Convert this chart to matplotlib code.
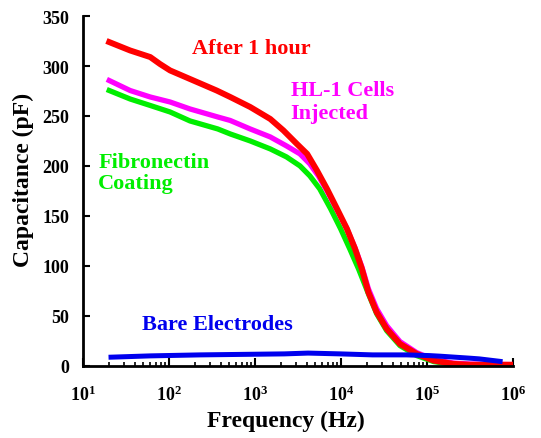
import matplotlib
matplotlib.use("Agg")
import matplotlib.pyplot as plt
from matplotlib.ticker import FixedLocator, LogLocator, NullFormatter

# ---- data ----
freq_red = [20, 35, 60, 78, 102, 174, 355, 510, 870, 1490, 2120, 3040, 4000, 5200,
            6800, 8900, 11600, 14400, 17300, 20600, 25700, 33600, 48000, 75000,
            118000, 200000, 316000, 1000000]
cap_red = [324, 315.6, 309, 302, 295.6, 287, 275.5, 269, 259, 247, 235.5, 222, 212, 195.4,
           177, 157, 137, 117, 97, 73.5, 53.5, 36.8, 21.7, 11.7,
           5, 1.7, 0.8, 0.8]

freq_mag = [20, 35, 60, 102, 174, 365, 510, 870, 1490, 2300, 3300, 4300, 5400,
            6800, 8900, 11600, 14400, 17300, 20600, 25700, 33600, 48000, 75000,
            118000, 200000, 316000, 1000000]
cap_mag = [285.5, 275.5, 269, 264, 257, 249, 245.5, 237, 229, 220, 212, 202, 190,
           175, 156, 137, 118, 99, 77, 57, 40, 24, 13,
           6, 2.5, 1.5, 1]

freq_grn = [20, 35, 60, 102, 174, 365, 510, 870, 1490, 2300, 3300, 4300, 5600,
            7500, 9800, 12500, 15800, 20600, 25700, 33600, 48000, 75000,
            118000, 200000, 1000000]
cap_grn = [275.5, 267, 260.5, 254, 245, 237, 232, 225, 217, 209, 200, 190, 177,
           157, 137, 117, 97, 72, 52, 35, 20, 10,
           4, 1, 0.5]

freq_blu = [21, 60, 230, 2170, 4100, 9700, 23000, 57000, 105000, 140000, 310000, 400000, 700000]
cap_blu = [8.4, 9.7, 10.7, 11.7, 12.5, 11.7, 10.7, 10.7, 10, 9.4, 7.4, 6.7, 4.2]

y_ticks = [0, 50, 100, 150, 200, 250, 300, 350]
x_ticks = [1e1, 1e2, 1e3, 1e4, 1e5, 1e6]
x_ticklabels = [r"$\mathbf{10^{%d}}$" % e for e in range(1, 7)]

# ---- style ----
plt.rcParams['font.family'] = ['Liberation Serif', 'DejaVu Serif']
plt.rcParams['font.weight'] = 'bold'
plt.rcParams['mathtext.fontset'] = 'custom'
plt.rcParams['mathtext.rm'] = 'Liberation Serif:bold'
plt.rcParams['mathtext.bf'] = 'Liberation Serif:bold'
plt.rcParams['mathtext.it'] = 'Liberation Serif:bold'

fig = plt.figure(figsize=(5.41, 4.39), dpi=100)
ax = fig.add_axes([0.154, 0.165, 0.795, 0.796])

ax.plot(freq_grn, cap_grn, color='#00ee00', lw=3.8, solid_joinstyle='round')
ax.plot(freq_mag, cap_mag, color='#ff00ff', lw=3.8, solid_joinstyle='round')
ax.plot(freq_red, cap_red, color='#ff0000', lw=4.3, solid_joinstyle='round')
ax.plot(freq_blu, cap_blu, color='#0000ee', lw=3.6, solid_joinstyle='round')

ax.set_xscale('log')
ax.set_xlim(10, 1e6)
ax.set_ylim(0, 350)

ax.xaxis.set_major_locator(FixedLocator(x_ticks))
ax.set_xticklabels(x_ticklabels)
ax.xaxis.set_minor_locator(LogLocator(base=10, subs=range(2, 10), numticks=20))
ax.xaxis.set_minor_formatter(NullFormatter())
ax.set_yticks(y_ticks)
ax.set_yticklabels([str(v) for v in y_ticks])

for s in ['top', 'right']:
    ax.spines[s].set_visible(False)
for s in ['left', 'bottom']:
    ax.spines[s].set_linewidth(2)

ax.tick_params(axis='both', which='major', direction='in', width=1.5,
               labelsize=13, colors='black')
ax.tick_params(axis='x', which='major', pad=14, length=6)
ax.tick_params(axis='y', which='major', pad=10, length=5)
ax.tick_params(axis='x', which='minor', direction='in', length=3, width=1.2)

ax.set_xlabel('Frequency (Hz)', fontsize=17, fontweight='bold', labelpad=4, x=0.471)
ax.set_ylabel('Capacitance (pF)', fontsize=17, fontweight='bold', labelpad=6, y=0.534)

ax.text(0.253, 0.91, 'After 1 hour', transform=ax.transAxes, color='#ff0000',
        fontsize=16, fontweight='bold', ha='left', va='center')
ax.text(0.482, 0.757, 'HL-1 Cells\nInjected', transform=ax.transAxes, color='#ff00ff',
        fontsize=16, fontweight='bold', ha='left', va='center', linespacing=1.2)
ax.text(0.035, 0.552, 'Fibronectin\nCoating', transform=ax.transAxes, color='#00ee00',
        fontsize=16, fontweight='bold', ha='left', va='center', linespacing=1.1)
ax.text(0.137, 0.118, 'Bare Electrodes', transform=ax.transAxes, color='#0000ee',
        fontsize=16, fontweight='bold', ha='left', va='center')

fig.savefig('out.png', dpi=100)
